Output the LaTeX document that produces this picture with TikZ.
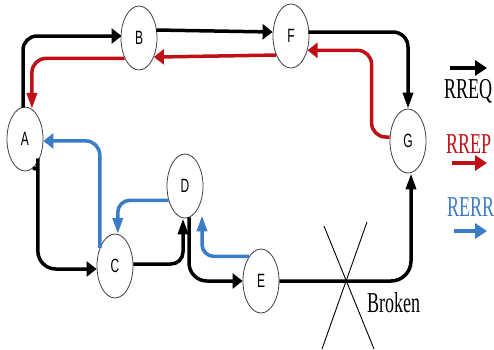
\documentclass[tikz,border=0pt]{standalone}
\usepackage{fontspec}
\setmainfont{Liberation Serif}
\newfontfamily\lsans{Liberation Sans}
\usetikzlibrary{arrows.meta,shapes.geometric,calc}
\definecolor{rpred}{RGB}{192,16,22}
\definecolor{erblue}{RGB}{58,124,200}
\newcommand{\vstretch}[1]{\scalebox{1}[1.6]{#1}}
\begin{document}
\begin{tikzpicture}[x=1pt,y=-1pt,
  nd/.style={ellipse, draw=black!75, line width=0.8pt, minimum width=36pt, minimum height=64pt, inner sep=0pt, fill=white, font=\lsans\fontsize{12}{12}\selectfont},
  link/.style={line width=3.5pt},
  ha/.style={-{Triangle[length=10pt,width=15pt]}},
  va/.style={-{Triangle[length=16pt,width=10pt]}},
  rq/.style={link,black}, rp/.style={link,rpred}, re/.style={link,erblue},
  legarrow/.style={line width=4.5pt,-{Triangle[length=12pt,width=15pt]}},
  leg/.style={font=\fontsize{18}{18}\selectfont, anchor=base west, inner sep=0pt}
]
\fill[white] (0,0) rectangle (494,349);
\useasboundingbox (0,0) rectangle (494,349);

\node[nd] (A) at (25,139) {\vstretch{A}};
\node[nd] (B) at (139,38) {\vstretch{B}};
\node[nd] (F) at (291,36) {\vstretch{F}};
\node[nd] (G) at (408,141) {\vstretch{G}};
\node[nd] (D) at (185,186) {\vstretch{D}};
\node[nd] (C) at (115,266) {\vstretch{C}};
\node[nd] (E) at (261,281) {\vstretch{E}};

% RREQ (black)
\draw[rq,ha,rounded corners=14] ($(A.north)+(-2,1)$) |- ($(B.west)+(1,-2)$);
\draw[rq,ha] ($(B.east)+(-1,-8)$) -- ($(F.west)+(0,-4)$);
\draw[rq,va,rounded corners=15] ($(F.east)+(-1,-4)$) -| (G.north);
\draw[rq,ha,rounded corners=18] (A.-75) to[out=0,in=90] ++(5,8) |- ($(C.west)+(0,3)$);
\draw[rq,va,rounded corners=12] ($(C.east)+(0,-2)$) -| ($(D.south)+(-2,0)$);
\draw[rq,ha,rounded corners=18] ($(D.south)+(4,-1)$) |- (E.west);
\draw[rq,va,rounded corners=20] (E.east) -| ($(G.south)+(3,0)$);

% RREP (red)
\draw[rp,ha,rounded corners=14] ($(G.west)+(0,-4)$) -- ++(-18,0) |- (F.-41);
\draw[rp,ha] (F.-128) -- (B.-52);
\draw[rp,va,rounded corners=14] (B.235) -| (A.77);

% RERR (blue)
\draw[re,ha,rounded corners=14] (C.130) |- (A.-6);
\draw[re,va,rounded corners=12] (D.221) -| (C.85);
\draw[re,va,rounded corners=12] (E.116) -| ($(D.south)+(17,-3)$);

% broken link
\draw[line width=0.9pt] (324,226) -- (374,349);
\draw[line width=0.9pt] (367,222) -- (322,349);
\node[leg] (brk) at (367,312) {\vstretch{Broken}};

% legend
\coordinate (l1a) at (450,68); \coordinate (l1b) at (487,68);
\draw[legarrow,black] (l1a) -- (l1b);
\node[leg] (t1) at (444,98) {\vstretch{RREQ}};
\node[leg,text=rpred] (t2) at (446,153) {\vstretch{RREP}};
\coordinate (l2a) at (452,163); \coordinate (l2b) at (487,163);
\draw[legarrow,rpred] (l2a) -- (l2b);
\node[leg,text=erblue] (t3) at (447,216) {\vstretch{RERR}};
\coordinate (l3a) at (454,231); \coordinate (l3b) at (487,231);
\draw[legarrow,erblue] (l3a) -- (l3b);
\end{tikzpicture}
\end{document}
